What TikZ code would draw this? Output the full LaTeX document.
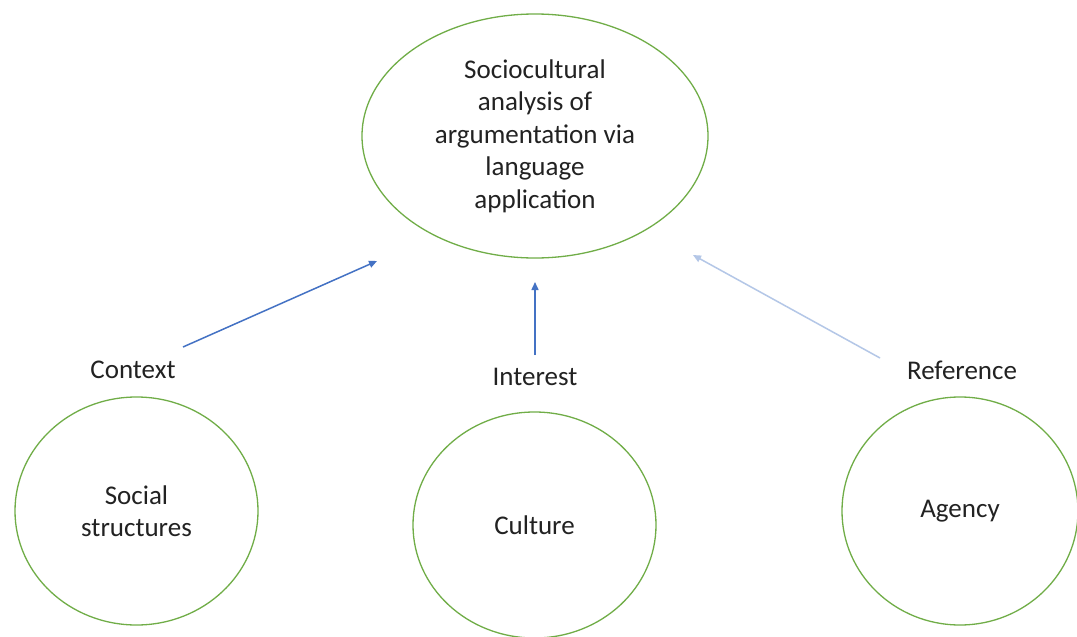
\documentclass[tikz,border=0pt]{standalone}
\usepackage{fontspec}
\setmainfont{Carlito}
\usetikzlibrary{shapes.geometric,arrows.meta}
\definecolor{ringgreen}{HTML}{70AD47}
\definecolor{arrblue}{HTML}{4472C4}
\definecolor{arrlight}{HTML}{B4C7E7}
\definecolor{txt}{HTML}{222222}
\tikzset{
  ring/.style={draw=ringgreen, line width=1.3pt, ellipse, inner sep=0pt, align=center, text=txt,
    font=\fontsize{27}{32.5}\selectfont},
  lbl/.style={text=txt, inner sep=0pt, font=\fontsize{27}{32.5}\selectfont},
  conn/.style={line width=1.5pt, -{Triangle[length=8pt,width=7pt]}}
}
\begin{document}
\begin{tikzpicture}[x=1pt,y=-1pt]
\useasboundingbox (0,0) rectangle (1077,637);
\fill[white] (0,0) rectangle (1077,637);
\node[ring, minimum width=346pt, minimum height=244pt] (top) at (535,136)
  {Sociocultural\\analysis of\\argumentation via\\language\\application};
\node[ring, minimum width=243pt, minimum height=228pt] (soc) at (136.5,511) {Social\\structures};
\node[ring, minimum width=243pt, minimum height=226pt] (cul) at (534.5,525) {Culture};
\node[ring, minimum width=236pt, minimum height=228pt] (agy) at (960,511) {Agency};
\node[lbl] (ctx) at (133,370) {Context};
\node[lbl] (int) at (535,377) {Interest};
\node[lbl] (ref) at (962,370) {Reference};
\coordinate (c1s) at (183,347);
\coordinate (c1e) at (377,261);
\coordinate (c2s) at (535,355);
\coordinate (c2e) at (535,282);
\coordinate (c3s) at (880,358);
\coordinate (c3e) at (693,255);
\draw[conn, draw=arrblue, fill=arrblue] (c1s) -- (c1e);
\draw[conn, draw=arrblue, fill=arrblue] (c2s) -- (c2e);
\draw[conn, draw=arrlight, fill=arrlight] (c3s) -- (c3e);
\end{tikzpicture}
\end{document}
